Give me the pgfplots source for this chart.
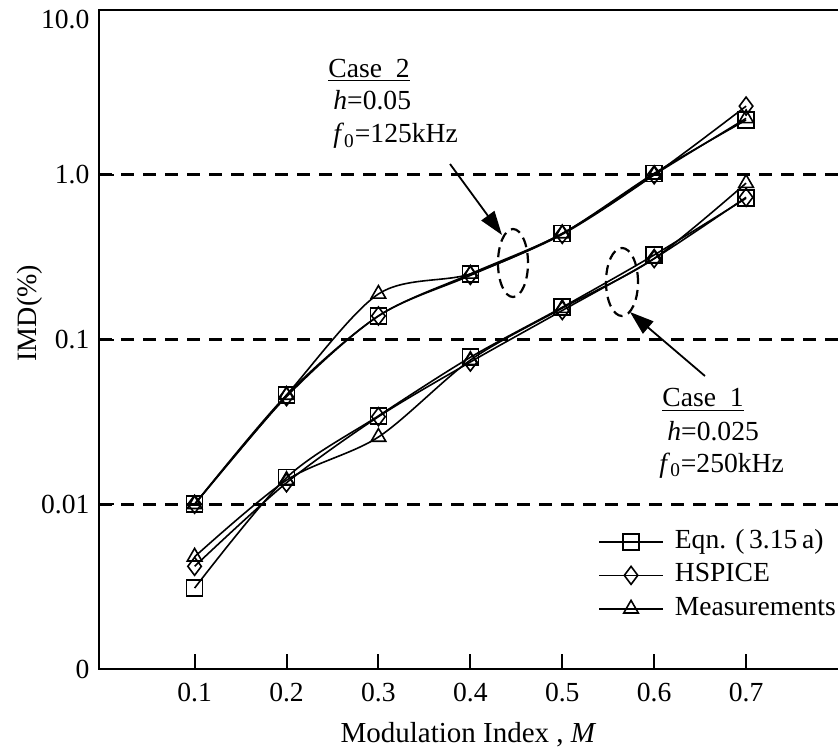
\documentclass[border=0pt]{standalone}
\usepackage{fontspec}
\setmainfont{Liberation Serif}
\usepackage{pgfplots}
\pgfplotsset{compat=1.18}
\usetikzlibrary{arrows.meta}

\pgfplotstableread{
M    eqA    hsA    meA    eqB     hsB     meB
0.1  0.010  0.010  0.010  0.0031  0.0042  0.0048
0.2  0.046  0.045  0.046  0.0145  0.0135  0.0140
0.3  0.139  0.139  0.189  0.0344  0.0340  0.0256
0.4  0.250  0.245  0.250  0.0780  0.0730  0.0750
0.5  0.440  0.435  0.440  0.1570  0.1500  0.1550
0.6  1.020  1.000  1.000  0.3260  0.3100  0.3100
0.7  2.150  2.610  2.200  0.7200  0.7300  0.8900
}\data

\begin{document}
\fontsize{13.8}{16}\selectfont
\begin{tikzpicture}[font=\fontsize{13.8}{16}\selectfont]
\begin{axis}[
  scale only axis, width=369.5pt, height=329.5pt,
  xmin=-0.004, xmax=0.8,
  ymode=log, ymin=0.001, ymax=10,
  xtick={0.1,0.2,0.3,0.4,0.5,0.6,0.7},
  xticklabels={0.1,0.2,0.3,0.4,0.5,0.6,0.7},
  ytick={0.001,0.01,0.1,1,10},
  yticklabels={0,0.01,0.1,1.0,\raisebox{-9pt}[0pt][0pt]{10.0}},
  /pgf/number format/assume math mode=true,
  yminorticks=false,
  tick align=inside, xtick pos=bottom, ytick pos=left,
  major tick length=7.5pt,
  tick style={line width=1pt, black},
  xticklabel style={yshift=-2.5pt},
  axis line style={draw=none},
  extra y ticks={0.01,0.1,1},
  extra y tick labels={},
  extra y tick style={grid=major, major tick length=0pt},
  major grid style={black, line width=1.5pt, dash pattern=on 6.5pt off 4.5pt},
  clip=false,
  xlabel={Modulation Index , \textit{M}},
  xlabel style={at={(axis description cs:0.5,-0.112)}, anchor=base, font=\fontsize{14.5}{16}\selectfont},
  ylabel={IMD(\%)},
  ylabel style={at={(axis description cs:-0.0934,0.54)}, anchor=center, rotate=0, font=\fontsize{14}{16}\selectfont},
  legend style={draw=none, fill=none, inner sep=0pt,
    at={(rel axis cs:0.675,0.2154)}, anchor=north west,
    nodes={inner sep=1pt, text height=9.5pt, text depth=3pt},
    row sep=2.2pt, column sep=4.5pt},
  legend cell align=left,
  legend image code/.code={\draw[mark repeat=2,mark phase=2,#1] plot coordinates {(0pt,0pt) (16pt,0pt) (32pt,0pt)};},
  every axis plot/.append style={black, line width=0.8pt, smooth, tension=0.5},
  mark options={solid, line width=0.8pt, fill=none},
]
% Case 2
\addplot[mark=square, mark size=4pt] table[x=M, y=eqA] {\data};
\addlegendentry{Eqn. (\,3.15\,a)}
\addplot[mark=diamond, mark size=4.5pt] table[x=M, y=hsA] {\data};
\addlegendentry{HSPICE}
\addplot[mark=triangle, mark size=4.2pt] table[x=M, y=meA] {\data};
\addlegendentry{Measurements}
% Case 1
\addplot[mark=square, mark size=4pt, forget plot] table[x=M, y=eqB] {\data};
\addplot[mark=diamond, mark size=4.5pt, forget plot] table[x=M, y=hsB] {\data};
\addplot[mark=triangle, mark size=4.2pt, forget plot] table[x=M, y=meB] {\data};

% axis frame (right side cut off in the reference)
\draw[line width=1pt] (rel axis cs:1.02,1) -- (rel axis cs:0,1) -- (rel axis cs:0,0) -- (rel axis cs:1.02,0);

% annotations
\node[anchor=base west, inner sep=0pt] at (rel axis cs:0.3099,0.8983) {\underline{Case~~2}};
\node[anchor=base west, inner sep=0pt] at (rel axis cs:0.3166,0.8483) {\textit{h}=0.05};
\node[anchor=base west, inner sep=0pt] at (rel axis cs:0.3166,0.7982) {\textit{f}\textsubscript{0}=125kHz};
\node[anchor=base west, inner sep=0pt] at (rel axis cs:0.7618,0.3976) {\underline{Case~~1}};
\node[anchor=base west, inner sep=0pt] at (rel axis cs:0.7686,0.3475) {\textit{h}=0.025};
\node[anchor=base west, inner sep=0pt] at (rel axis cs:0.7578,0.2989) {\textit{f}\textsubscript{0}=250kHz};

\draw[line width=1.1pt, dash pattern=on 5pt off 3pt] (rel axis cs:0.5602,0.6161) ellipse [x radius=7.5pt, y radius=17pt];
\draw[line width=1.1pt, dash pattern=on 5pt off 3pt] (rel axis cs:0.7077,0.5873) ellipse [x radius=8pt, y radius=17pt];
\draw[line width=0.9pt, -{Triangle[length=12pt,width=8pt]}] (rel axis cs:0.475,0.7663) -- (rel axis cs:0.5453,0.6586);
\draw[line width=0.9pt, -{Triangle[length=12pt,width=8pt]}] (rel axis cs:0.820,0.4446) -- (rel axis cs:0.7185,0.5417);

\coordinate (bbll) at (rel axis cs:-0.134,-0.1229);
\coordinate (bbur) at (rel axis cs:1,1.0152);
\end{axis}
\pgfresetboundingbox
\path[use as bounding box] (bbll) rectangle (bbur);
\end{tikzpicture}
\end{document}
